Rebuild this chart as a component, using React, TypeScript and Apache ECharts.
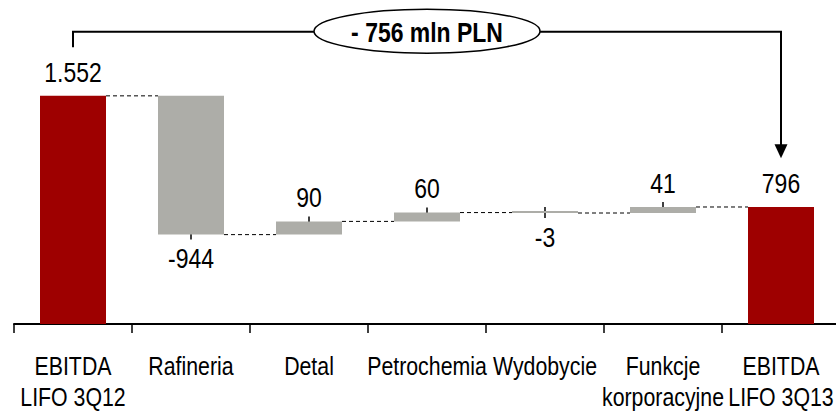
import React, { useEffect, useRef } from "react";
import * as echarts from "echarts";

const categories = [
  "EBITDA\nLIFO 3Q12",
  "Rafineria",
  "Detal",
  "Petrochemia",
  "Wydobycie",
  "Funkcje\nkorporacyjne",
  "EBITDA\nLIFO 3Q13",
];
const changes = [1552, -944, 90, 60, -3, 41, 796];
const isTotal = [true, false, false, false, false, false, true];
const diffLabel = "- 756 mln PLN";
const yMin = 0;
const yMax = 2000;

const FONT = "'Liberation Sans Narrow','Arial Narrow','Liberation Sans',Arial,sans-serif";
const NARROW = 0.82; // horizontal squeeze to imitate a narrow typeface
const RED = "#9E0000";
const GRAY = "#ADADA8";

function fmt(v: number): string {
  const s = Math.abs(v).toString().replace(/\B(?=(\d{3})+(?!\d))/g, ".");
  return (v < 0 ? "-" : "") + s;
}

// waterfall geometry derived from data
const bases: number[] = [];
const heights: number[] = [];
const levels: number[] = [];
{
  let running = 0;
  changes.forEach((v, i) => {
    if (isTotal[i]) {
      bases.push(0);
      heights.push(v);
      running = v;
    } else {
      const after = running + v;
      bases.push(Math.min(running, after));
      heights.push(Math.abs(v));
      running = after;
    }
    levels.push(running);
  });
}

export default function App() {
  const ref = useRef<HTMLDivElement>(null);
  useEffect(() => {
    if (!ref.current) return;
    const chart = echarts.init(ref.current, undefined, { renderer: "svg" });

    const barData = changes.map((v, i) => ({
      value: heights[i],
      itemStyle: { color: isTotal[i] ? RED : GRAY },
    }));

    // [index, edge value, direction(+1 up / -1 down), value]
    const edgeData = changes.map((v, i) => [i, v >= 0 ? bases[i] + heights[i] : bases[i], v >= 0 ? 1 : -1, v]);
    const tickData = edgeData.filter((d, i) => !isTotal[i]);
    const connData = levels.slice(0, levels.length - 1).map((l, i) => [i, l]);
    const catData = categories.map((c, i) => [i, yMin]);

    const option: any = {
      animation: false,
      grid: { left: 14, top: 30, width: 826, height: 294, containLabel: false, outerBoundsMode: "none" },
      xAxis: {
        type: "category",
        data: categories,
        boundaryGap: true,
        axisLine: { show: true, lineStyle: { color: "#000", width: 2 } },
        axisTick: { show: true, length: 9, alignWithLabel: false, lineStyle: { color: "#000", width: 1.5 } },
        axisLabel: { show: false },
      },
      yAxis: {
        type: "value",
        min: yMin,
        max: yMax,
        show: false,
        splitLine: { show: false },
      },
      series: [
        {
          name: "base",
          type: "bar",
          stack: "wf",
          barWidth: 66,
          itemStyle: { color: "transparent" },
          emphasis: { disabled: true },
          data: bases,
          silent: true,
        },
        {
          name: "value",
          type: "bar",
          stack: "wf",
          barWidth: 66,
          barMinHeight: 2,
          data: barData,
        },
        {
          name: "connectors",
          type: "custom",
          data: connData,
          silent: true,
          renderItem: (params: any, api: any) => {
            const p = api.coord([api.value(0), api.value(1)]);
            const bw = api.size([1, 0])[0];
            const half = 33;
            return {
              type: "line",
              shape: { x1: p[0] + half, y1: p[1], x2: p[0] + bw - half, y2: p[1] },
              style: { stroke: "#000", lineWidth: 1, lineDash: [4, 3] },
            };
          },
        },
        {
          name: "ticks",
          type: "custom",
          data: tickData,
          silent: true,
          renderItem: (params: any, api: any) => {
            const p = api.coord([api.value(0), api.value(1)]);
            const dir = api.value(2);
            return {
              type: "line",
              shape: { x1: p[0], y1: p[1] - dir * 5, x2: p[0], y2: p[1] + dir * 6 },
              style: { stroke: "#000", lineWidth: 1.5 },
            };
          },
        },
        {
          name: "valueLabels",
          type: "custom",
          data: edgeData,
          silent: true,
          renderItem: (params: any, api: any) => {
            const p = api.coord([api.value(0), api.value(1)]);
            const dir = api.value(2);
            return {
              type: "text",
              x: p[0],
              y: p[1] - dir * 24,
              scaleX: NARROW,
              style: {
                text: fmt(api.value(3)),
                fill: "#000",
                font: "28px " + FONT,
                align: "center",
                verticalAlign: "middle",
              },
            };
          },
        },
        {
          name: "categoryLabels",
          type: "custom",
          data: catData,
          silent: true,
          renderItem: (params: any, api: any) => {
            const p = api.coord([api.value(0), api.value(1)]);
            return {
              type: "text",
              x: p[0],
              y: p[1] + 26.5,
              scaleX: NARROW,
              style: {
                text: categories[params.dataIndex],
                fill: "#000",
                font: "26px " + FONT,
                lineHeight: 31,
                align: "center",
                verticalAlign: "top",
              },
            };
          },
        },
        {
          name: "annotation",
          type: "custom",
          data: [[0, changes.length - 1]],
          silent: true,
          renderItem: (params: any, api: any) => {
            const a = api.value(0);
            const b = api.value(1);
            const pA = api.coord([a, levels[a]]);
            const pB = api.coord([b, levels[b]]);
            const lineY = api.coord([0, yMax])[1] + 1.7;
            const gap = 48.7;
            const cx = (pA[0] + pB[0]) / 2;
            const rx = 113;
            const ry = 22;
            const tipY = pB[1] - gap;
            const headH = 14;
            const headW = 6.5;
            return {
              type: "group",
              children: [
                {
                  type: "polyline",
                  shape: { points: [[pA[0], pA[1] - gap], [pA[0], lineY], [cx - rx, lineY]] },
                  style: { stroke: "#000", lineWidth: 2, fill: null },
                },
                {
                  type: "polyline",
                  shape: { points: [[cx + rx, lineY], [pB[0], lineY], [pB[0], tipY - headH + 1]] },
                  style: { stroke: "#000", lineWidth: 2, fill: null },
                },
                {
                  type: "polygon",
                  shape: { points: [[pB[0] - headW, tipY - headH], [pB[0] + headW, tipY - headH], [pB[0], tipY]] },
                  style: { fill: "#000" },
                },
                {
                  type: "ellipse",
                  shape: { cx: cx, cy: lineY - 0.5, rx: rx, ry: ry },
                  style: { fill: "#fff", stroke: "#000", lineWidth: 1.5 },
                },
                {
                  type: "text",
                  x: cx,
                  y: lineY,
                  scaleX: NARROW,
                  style: {
                    text: diffLabel,
                    fill: "#000",
                    font: "bold 28px " + FONT,
                    align: "center",
                    verticalAlign: "middle",
                  },
                },
              ],
            };
          },
        },
      ],
    };
    chart.setOption(option);
    return () => chart.dispose();
  }, []);
  return (
    <div
      ref={ref}
      style={{ position: "absolute", left: 0, top: 0, width: 836, height: 411, background: "#fff" }}
    />
  );
}
